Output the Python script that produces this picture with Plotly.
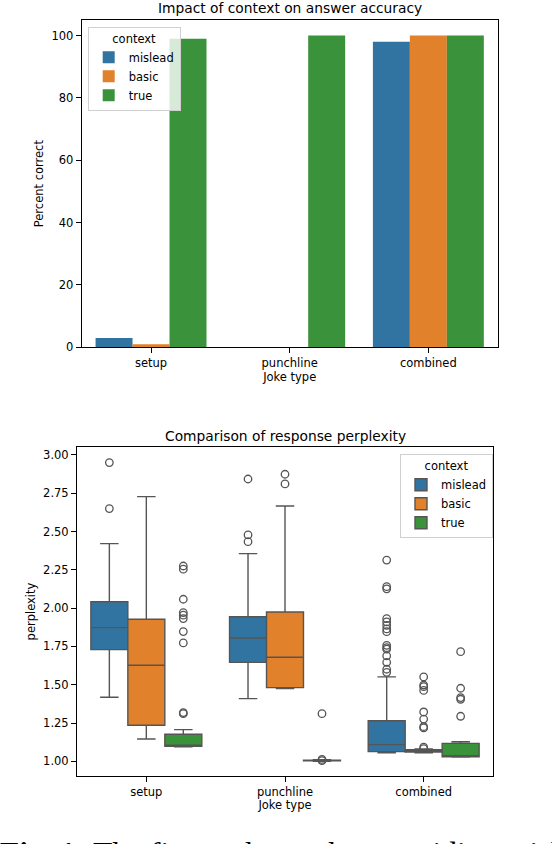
import plotly.graph_objects as go

# categories
joke_types = ["setup", "punchline", "combined"]
contexts = ["mislead", "basic", "true"]
colors = ["#3274a1", "#e1812c", "#3a923a"]

# percent correct per joke type
acc_mislead = [3, 0, 98]
acc_basic = [1, 0, 100]
acc_true = [99, 100, 100]

# perplexity box stats (setup, punchline, combined)
mislead_low = [1.418, 1.409, 1.055]
mislead_q1 = [1.729, 1.646, 1.063]
mislead_med = [1.873, 1.805, 1.109]
mislead_q3 = [2.042, 1.944, 1.265]
mislead_high = [2.421, 2.356, 1.551]

basic_low = [1.146, 1.475, 1.055]
basic_q1 = [1.235, 1.481, 1.060]
basic_med = [1.627, 1.679, 1.066]
basic_q3 = [1.927, 1.975, 1.075]
basic_high = [2.728, 2.667, 1.080]

true_low = [1.095, 1.000, 1.028]
true_q1 = [1.098, 1.003, 1.030]
true_med = [1.100, 1.006, 1.032]
true_q3 = [1.177, 1.008, 1.117]
true_high = [1.207, 1.010, 1.128]

# outliers
mislead_out = [
    [2.95, 2.65],
    [2.843, 2.478, 2.434],
    [2.314, 2.140, 2.126, 1.931, 1.910, 1.888, 1.864, 1.846, 1.757, 1.742,
     1.733, 1.688, 1.646, 1.601, 1.581],
]
basic_out = [
    [],
    [2.874, 2.811],
    [1.551, 1.498, 1.487, 1.463, 1.322, 1.276, 1.226, 1.218, 1.092, 1.083],
]
true_out = [
    [2.275, 2.254, 2.058, 1.971, 1.954, 1.932, 1.847, 1.773, 1.318, 1.311],
    [1.311, 1.012, 1.004],
    [1.716, 1.477, 1.416, 1.405, 1.294],
]

W, H = 552, 844
line_gray = "#555555"
fs = 11.5

fig = go.Figure()

# ---------------- top: bars ----------------
for name, vals, col in zip(contexts, [acc_mislead, acc_basic, acc_true], colors):
    fig.add_trace(go.Bar(x=joke_types, y=vals, name=name, marker_color=col,
                         marker_line_width=0, xaxis="x", yaxis="y", legend="legend"))

# ---------------- bottom: boxes ----------------
stats = [
    (mislead_low, mislead_q1, mislead_med, mislead_q3, mislead_high, mislead_out),
    (basic_low, basic_q1, basic_med, basic_q3, basic_high, basic_out),
    (true_low, true_q1, true_med, true_q3, true_high, true_out),
]
for name, col, (lo, q1, med, q3, hi, outs) in zip(contexts, colors, stats):
    fig.add_trace(go.Box(x=joke_types, lowerfence=lo, q1=q1, median=med, q3=q3,
                         upperfence=hi, name=name, fillcolor=col,
                         line=dict(color=line_gray, width=1.4), whiskerwidth=0.5,
                         boxpoints=False, offsetgroup=name, alignmentgroup="b",
                         xaxis="x2", yaxis="y2", legend="legend2"))
    xs, ys = [], []
    for jt, o in zip(joke_types, outs):
        xs += [jt] * len(o)
        ys += o
    fig.add_trace(go.Scatter(x=xs, y=ys, mode="markers", showlegend=False,
                             marker=dict(symbol="circle-open", size=7.5, color=line_gray,
                                         line=dict(width=1.3, color=line_gray)),
                             offsetgroup=name, alignmentgroup="b",
                             xaxis="x2", yaxis="y2"))

axis_style = dict(showline=True, mirror=True, linecolor="black", linewidth=1,
                  ticks="outside", ticklen=5, tickwidth=1, tickcolor="black",
                  showgrid=False, zeroline=False, automargin=False,
                  tickfont=dict(size=fs))

legend_style = dict(bordercolor="#d0d0d0", borderwidth=1, bgcolor="rgba(255,255,255,0.8)",
                    font=dict(size=fs),
                    title=dict(text="context", side="top center", font=dict(size=fs)),
                    xanchor="left", yanchor="top", tracegroupgap=0)

def ax_title(t, s):
    return dict(text=t, standoff=s, font=dict(size=fs))

fig.update_layout(
    width=W, height=H,
    margin=dict(l=0, r=0, t=0, b=0),
    paper_bgcolor="white", plot_bgcolor="white",
    font=dict(family="DejaVu Sans", size=fs, color="black"),
    barmode="group", bargap=0.2, bargroupgap=0,
    boxmode="group", boxgap=0.2, boxgroupgap=0,
    scattermode="group", scattergap=0.2,
    xaxis=dict(domain=[81.7 / W, 497.7 / W], anchor="y", type="category",
               range=[-0.5, 2.5], title=ax_title("Joke type", 3), **axis_style),
    yaxis=dict(domain=[1 - 347.3 / H, 1 - 20 / H], anchor="x", range=[0, 105],
               tickvals=[0, 20, 40, 60, 80, 100],
               title=ax_title("Percent correct", 5), **axis_style),
    xaxis2=dict(domain=[77 / W, 493 / W], anchor="y2", type="category",
                range=[-0.5, 2.5], title=ax_title("Joke type", 3), **axis_style),
    yaxis2=dict(domain=[1 - 775.7 / H, 1 - 447.3 / H], anchor="x2", range=[0.906, 3.05],
                tickvals=[1.0, 1.25, 1.5, 1.75, 2.0, 2.25, 2.5, 2.75, 3.0], tickformat=".2f",
                title=ax_title("perplexity", 5), **axis_style),
    legend=dict(x=87.7 / W, y=1 - 26.7 / H, **legend_style),
    legend2=dict(x=400 / W, y=1 - 454.3 / H, **legend_style),
    showlegend=True,
)

fig.add_annotation(text="Impact of context on answer accuracy", xref="paper", yref="paper",
                   x=289.7 / W, y=1 - 8 / H, showarrow=False, font=dict(size=13.8),
                   xanchor="center", yanchor="middle")
fig.add_annotation(text="Comparison of response perplexity", xref="paper", yref="paper",
                   x=285 / W, y=1 - 436 / H, showarrow=False, font=dict(size=13.8),
                   xanchor="center", yanchor="middle")
# figure caption from the page, only its top edge shows in the crop
fig.add_annotation(text="<b>Fig. 1:</b> The figure shows that providing misleading context",
                   xref="paper", yref="paper", x=-2 / W, y=1 - 834 / H, showarrow=False,
                   font=dict(family="Liberation Serif", size=31.5), xanchor="left",
                   yanchor="top", align="left")

fig.write_html("out.html", config={"displayModeBar": False},
               post_script="document.body.style.margin='0';")
